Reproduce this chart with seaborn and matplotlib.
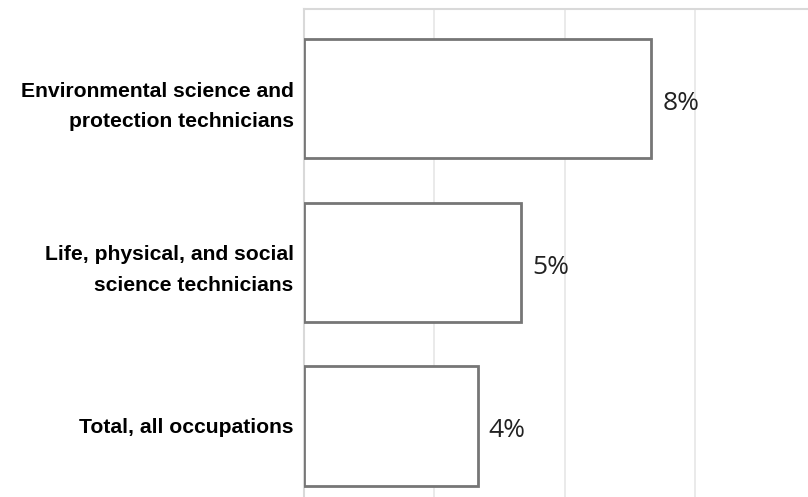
import pandas as pd
import matplotlib.pyplot as plt
import seaborn as sns

occupations = ['Environmental science and\nprotection technicians',
               'Life, physical, and social\nscience technicians',
               'Total, all occupations']
growth = [8, 5, 4]
value_labels = ['8%', '5%', '4%']

df = pd.DataFrame({'occupation': occupations, 'growth': growth})

sns.set_style('white')
fig = plt.figure(figsize=(8.08, 4.97), dpi=100)
ax = fig.add_axes([304/808, -0.038, 521/808, 507/497])

sns.barplot(data=df, x='growth', y='occupation', color='white', edgecolor='#767676',
            linewidth=2, width=0.73, ax=ax, zorder=3)

ax.set_xlim(0, 12)
ax.set_ylim(2.55, -0.549)
ax.set_xticks([0, 3, 6, 9])
ax.xaxis.grid(True, color='#e6e6e6', linewidth=1.2, zorder=0)
ax.set_axisbelow(True)
ax.tick_params(axis='x', bottom=False, labelbottom=False)
ax.tick_params(axis='y', left=False, pad=4)
ax.set_xlabel('')
ax.set_ylabel('')

for s in ['right', 'bottom']:
    ax.spines[s].set_visible(False)
for s in ['top', 'left']:
    ax.spines[s].set_color('#d9d9d9')
    ax.spines[s].set_linewidth(1.5)

for lab in ax.get_yticklabels():
    lab.set_fontfamily('Liberation Sans')
    lab.set_fontweight('bold')
    lab.set_fontsize(15.2)
    lab.set_linespacing(1.75)
    lab.set_color('black')

for i, (v, t) in enumerate(zip(growth, value_labels)):
    ax.text(v + 0.25, i + 0.03, t, va='center', ha='left', fontsize=19,
            family='Open Sans', color='#222222')

fig.savefig('out.png', dpi=100)
